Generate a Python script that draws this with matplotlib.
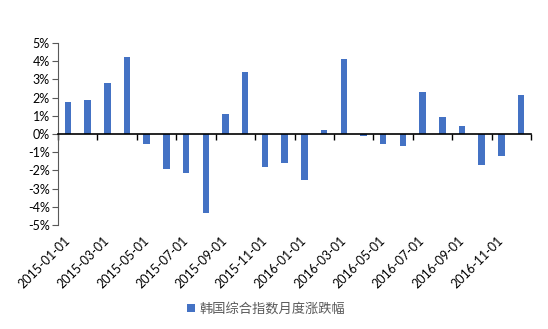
import matplotlib.pyplot as plt
import numpy as np

# Monthly returns (%)
months = ['2015-01-01', '2015-02-01', '2015-03-01', '2015-04-01', '2015-05-01', '2015-06-01',
          '2015-07-01', '2015-08-01', '2015-09-01', '2015-10-01', '2015-11-01', '2015-12-01',
          '2016-01-01', '2016-02-01', '2016-03-01', '2016-04-01', '2016-05-01', '2016-06-01',
          '2016-07-01', '2016-08-01', '2016-09-01', '2016-10-01', '2016-11-01', '2016-12-01']
returns = [1.78, 1.89, 2.78, 4.21, -0.57, -1.90, -2.12, -4.36, 1.08, 3.42, -1.81, -1.57,
           -2.53, 0.24, 4.12, -0.09, -0.55, -0.66, 2.33, 0.92, 0.44, -1.72, -1.23, 2.16]
series_name = '韩国综合指数月度涨跌幅'
yticks = [-5, -4, -3, -2, -1, 0, 1, 2, 3, 4, 5]

plt.rcParams['font.family'] = ['Lato', 'DejaVu Sans']

fig = plt.figure(figsize=(5.48, 3.29), dpi=100)
ax = fig.add_axes([58 / 548, 1 - 225 / 329, (531 - 58) / 548, (225 - 43) / 329])

# zero line (top spine moved to y=0) -- do this first, it resets the ticks
ax.spines['top'].set_position(('data', 0))
ax.spines['top'].set_color('#000000')
ax.spines['top'].set_linewidth(1.2)
ax.spines['bottom'].set_visible(False)
ax.spines['right'].set_visible(False)
ax.spines['left'].set_color('#595959')

x = np.arange(len(months))
ax.bar(x, returns, width=0.33, color='#4472C4', label=series_name)

ax.set_xlim(-0.5, len(months) - 0.5)
ax.set_ylim(-5, 5)
ax.set_yticks(yticks)
ax.set_yticklabels([f'{v}%' for v in yticks], fontsize=9)
ax.tick_params(axis='y', length=4, color='#595959', pad=2)

# labels at every other category, placed low
ax.set_xticks(x[::2])
ax.set_xticklabels(months[::2], rotation=45, ha='right', va='center',
                   rotation_mode='anchor', fontsize=9)
ax.tick_params(axis='x', which='major', length=0, pad=10, top=False, bottom=True)

# tick marks on the zero line at category boundaries
ax.set_xticks(np.arange(-0.5, len(months), 2), minor=True)
ax.tick_params(axis='x', which='minor', top=True, bottom=False, direction='in', length=4,
               width=1, color='#000000', labeltop=False, labelbottom=False)

fig.legend(loc='center', bbox_to_anchor=(266 / 548, 1 - 309 / 329), frameon=False,
           prop={'family': ['Noto Sans CJK SC', 'DejaVu Sans'], 'size': 9.5},
           labelcolor='#595959', handlelength=0.6, handleheight=0.6, handletextpad=0.3)

fig.savefig('out.png', dpi=100)
